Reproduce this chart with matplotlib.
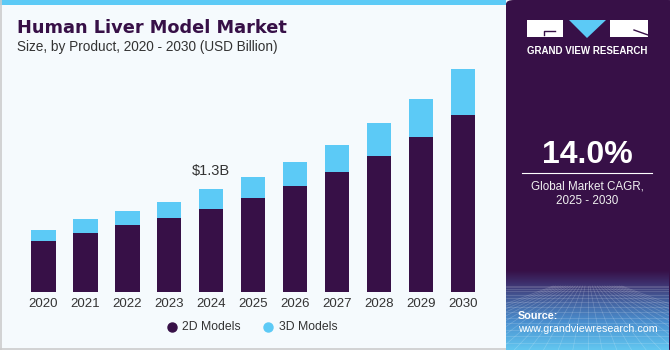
import matplotlib.pyplot as plt
import matplotlib.patches as mpatches
from matplotlib.lines import Line2D
from matplotlib.colors import LinearSegmentedColormap
import numpy as np

# Data
years = ['2020', '2021', '2022', '2023', '2024', '2025', '2026', '2027', '2028', '2029', '2030']
models_2d = [0.64, 0.75, 0.84, 0.94, 1.05, 1.19, 1.34, 1.51, 1.72, 1.96, 2.24]
models_3d = [0.14, 0.17, 0.18, 0.20, 0.25, 0.26, 0.30, 0.35, 0.41, 0.48, 0.57]
series_names = ['2D Models', '3D Models']
label_year = '2024'
label_text = '$1.3B'

purple = '#371047'
blue = '#5ccaf6'
bg = '#f5fafd'
txt = '#333333'


def fx(px):
    return px / 670


def fy(py):
    return 1 - py / 350


fig = plt.figure(figsize=(6.7, 3.5), dpi=100)
fig.patch.set_facecolor(bg)

# frame pieces
fig.add_artist(mpatches.Rectangle((0, fy(5)), fx(506), 5 / 350, transform=fig.transFigure,
                                  color=blue, lw=0))
fig.add_artist(mpatches.FancyBboxPatch((fx(506), 0), fx(170), 1.0, transform=fig.transFigure,
                                       boxstyle='round,pad=0,rounding_size=0.012', color=purple, lw=0))
fig.add_artist(Line2D([fx(0.5), fx(0.5)], [0, 1], transform=fig.transFigure, color='#cccccc', lw=1.2))
fig.add_artist(Line2D([0, fx(506)], [1.5 / 350, 1.5 / 350], transform=fig.transFigure,
                      color='#cccccc', lw=1.2))

# bottom glow of the side panel, with a faint perspective grid
gax = fig.add_axes([fx(506), 0, fx(163), 80 / 350])
gax.set_zorder(2)
grad = np.linspace(0, 1, 100).reshape(-1, 1)
cmap = LinearSegmentedColormap.from_list(
    'g', [(0, '#62c6f0'), (0.35, '#4a8fcf'), (0.7, '#43528f'), (0.85, '#3d2d6a'), (1, purple)])
gax.imshow(grad, aspect='auto', cmap=cmap, origin='lower', extent=(0, 1, 0, 1))
for k in range(14):
    yy = 0.8 * (k / 14) ** 1.6
    gax.plot([0, 1], [0.8 - yy, 0.8 - yy], color='white', lw=0.5, alpha=0.2)
for k in range(-14, 15):
    gax.plot([0.5 + k * 0.015, 0.5 + k * 0.09], [0.8, 0], color='white', lw=0.5, alpha=0.2)
gax.set_xlim(0, 1)
gax.set_ylim(0, 1)
gax.axis('off')

# titles
fig.text(fx(17), fy(28), 'Human Liver Model Market', fontsize=12.8, fontweight='bold',
         color=purple, va='center', family='DejaVu Sans')
fig.text(fx(17), fy(47), 'Size, by Product, 2020 - 2030 (USD Billion)', fontsize=9.8,
         color=txt, va='center', family='Liberation Sans')

# bars
ax = fig.add_axes([22.55 / 670, 58 / 350, 461.2 / 670, 237.7 / 350])
ax.set_facecolor(bg)
x = np.arange(len(years))
ax.bar(x, models_2d, width=0.58, color=purple, label=series_names[0])
ax.bar(x, models_3d, width=0.58, bottom=models_2d, color=blue, label=series_names[1])
i = years.index(label_year)
ax.text(i, models_2d[i] + models_3d[i] + 0.14, label_text, ha='center', va='bottom',
        fontsize=10.5, color=txt, family='Liberation Sans')
ax.set_xlim(-0.5, len(years) - 0.5)
ax.set_ylim(0, 3.0)
ax.set_xticks(x)
ax.set_xticklabels(years, fontsize=9.5, color=txt, family='Liberation Sans')
ax.tick_params(axis='x', length=0, pad=4)
ax.set_yticks([])
for s in ax.spines.values():
    s.set_visible(False)

# legend
for name, col, mx in zip(series_names, [purple, blue], [171.5, 268]):
    fig.add_artist(Line2D([fx(mx)], [fy(327)], transform=fig.transFigure, marker='o', ls='',
                          color=col, markersize=6.5))
    fig.text(fx(mx + 11), fy(327), name, ha='left', va='center', fontsize=8.8, color=txt,
             family='Liberation Sans')

# logo
fig.add_artist(mpatches.Rectangle((fx(527), fy(37)), fx(36), 17 / 350, transform=fig.transFigure,
                                  color='white', lw=0))
fig.add_artist(mpatches.Polygon([(fx(569), fy(20)), (fx(606), fy(20)), (fx(587), fy(38))],
                                transform=fig.transFigure, color=blue, lw=0))
fig.add_artist(mpatches.Rectangle((fx(610), fy(37)), fx(38), 17 / 350, transform=fig.transFigure,
                                  color='white', lw=0))
fig.add_artist(Line2D([fx(544), fx(544), fx(555)], [fy(35), fy(31), fy(31)], transform=fig.transFigure,
                      color=purple, lw=1))
fig.add_artist(Line2D([fx(634), fx(648)], [fy(30), fy(35)], transform=fig.transFigure,
                      color=purple, lw=1))
fig.text(fx(587.5), fy(50.5), 'GRAND VIEW RESEARCH', ha='center', va='center', color='white',
         fontsize=7, fontweight='bold', family='Liberation Sans')

# CAGR
fig.text(fx(587), fy(155), '14.0%', ha='center', va='center', color='white', fontsize=23,
         fontweight='bold', family='Liberation Sans')
fig.add_artist(Line2D([fx(522), fx(652)], [fy(173), fy(173)], transform=fig.transFigure,
                      color='white', lw=0.8))
fig.text(fx(587), fy(186), 'Global Market CAGR,', ha='center', va='center', color='#f0f0f0',
         fontsize=8.4, family='Liberation Sans')
fig.text(fx(587), fy(201), '2025 - 2030', ha='center', va='center', color='#f0f0f0',
         fontsize=8.4, family='Liberation Sans')

fig.text(fx(518), fy(316), 'Source:', ha='left', va='center', color='white', fontsize=7.8,
         fontweight='bold', family='Liberation Sans', zorder=5)
fig.text(fx(518), fy(329), 'www.grandviewresearch.com', ha='left', va='center', color='white',
         fontsize=7.7, family='Liberation Sans', zorder=5)

plt.savefig('out.png', dpi=100, facecolor=fig.get_facecolor())
